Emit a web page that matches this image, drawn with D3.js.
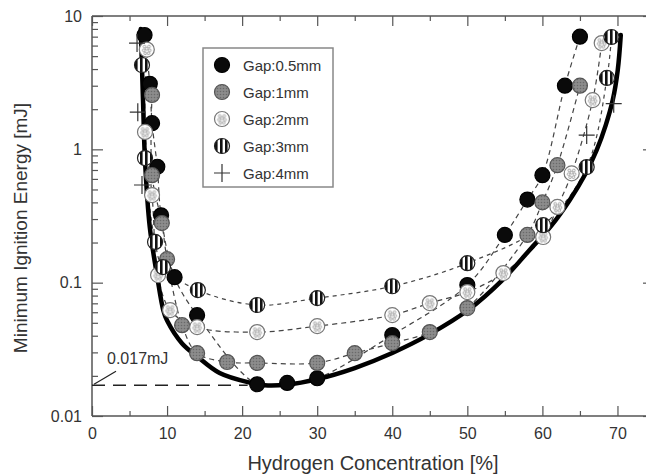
<!DOCTYPE html>
<html>
<head>
<meta charset="utf-8">
<script src="https://cdn.jsdelivr.net/npm/d3@7"></script>
<style>
  html, body { margin: 0; padding: 0; background: #fff; }
  svg { display: block; font-family: "Liberation Sans", Arial, Helvetica, sans-serif; }
</style>
</head>
<body>
<svg id="chart" width="646" height="476"></svg>
<script>
// Hydrogen concentration [%] and minimum ignition energy [mJ] per electrode gap
const gap05Conc = [7.0, 7.7, 8.0, 8.7, 9.2, 11.0, 14.0, 22.0, 26.0, 30.0, 40.0, 50.0, 55.0, 58.0, 60.0, 63.0, 65.0];
const gap05Mie  = [7.2, 3.1, 1.57, 0.74, 0.32, 0.11, 0.057, 0.0173, 0.0177, 0.0192, 0.0405, 0.096, 0.228, 0.42, 0.64, 3.0, 7.0];

const gap1Conc = [8.0, 8.0, 9.3, 10.0, 12.0, 14.0, 18.0, 22.0, 30.0, 35.0, 40.0, 45.0, 50.0, 58.0, 60.0, 62.0, 65.0];
const gap1Mie  = [2.56, 0.64, 0.28, 0.15, 0.048, 0.0296, 0.0254, 0.025, 0.025, 0.0296, 0.0352, 0.0426, 0.0645, 0.228, 0.40, 0.76, 3.0];

const gap2Conc = [7.3, 7.06, 8.0, 8.8, 10.4, 14.0, 22.0, 30.0, 40.0, 45.0, 50.0, 54.8, 60.1, 62.0, 63.9, 66.7, 67.9];
const gap2Mie  = [5.6, 1.35, 0.454, 0.114, 0.0623, 0.0464, 0.0426, 0.0472, 0.0571, 0.0703, 0.085, 0.118, 0.22, 0.37, 0.66, 2.34, 6.27];

const gap3Conc = [6.66, 7.06, 8.4, 9.45, 14.1, 22.0, 30.0, 40.0, 50.0, 60.1, 65.9, 68.6, 69.2];
const gap3Mie  = [4.29, 0.86, 0.202, 0.131, 0.088, 0.068, 0.0766, 0.094, 0.14, 0.27, 0.736, 3.43, 6.96];

const gap4Conc = [6.0, 6.1, 6.66, 65.9, 69.5];
const gap4Mie  = [6.27, 1.9, 0.54, 1.28, 2.2];

// Lower envelope: minimum ignition energy over all gaps
const minConc = [6.5, 6.8, 7.06, 7.7, 8.7, 9.5, 10, 12, 14, 17, 21, 23, 26, 30, 35, 40, 45, 50.1, 54.7, 58.3, 61.25, 63.65, 65.65, 67.24, 68.44, 69.37, 70.04, 70.44];
const minMie  = [8.0, 2.3, 0.83, 0.26, 0.11, 0.062, 0.052, 0.035, 0.028, 0.021, 0.0178, 0.017, 0.0172, 0.0189, 0.0229, 0.0297, 0.0411, 0.0623, 0.105, 0.176, 0.27, 0.417, 0.642, 0.99, 1.52, 2.34, 3.94, 7.2];

const lowestMie = 0.017;

const xTickValues = [0, 10, 20, 30, 40, 50, 60, 70];
const yTickValues = [0.01, 0.1, 1, 10];
const yTickLabels = ["0.01", "0.1", "1", "10"];

const legendLabels = ["Gap:0.5mm", "Gap:1mm", "Gap:2mm", "Gap:3mm", "Gap:4mm"];

const svg = d3.select("#chart");
const pLeft = 92, pRight = 655, pTop = 16, pBottom = 416;

const x = d3.scaleLinear().domain([0, 75]).range([pLeft, pRight]);
const y = d3.scaleLog().domain([0.01, 10]).range([pBottom, pTop]);

// Marker fill patterns
const defs = svg.append("defs");

const pGray = defs.append("pattern").attr("id", "pGray")
  .attr("patternUnits", "userSpaceOnUse").attr("width", 3).attr("height", 3);
pGray.append("rect").attr("width", 3).attr("height", 3).attr("fill", "#8c8c8c");
pGray.append("circle").attr("cx", 1.5).attr("cy", 1.5).attr("r", 0.8).attr("fill", "#6a6a6a");

const pDots = defs.append("pattern").attr("id", "pDots")
  .attr("patternUnits", "objectBoundingBox").attr("patternContentUnits", "objectBoundingBox")
  .attr("width", 1).attr("height", 1);
pDots.append("rect").attr("width", 1).attr("height", 1).attr("fill", "#fff");
[[0.35, 0.3], [0.65, 0.3], [0.3, 0.55], [0.7, 0.55], [0.5, 0.45], [0.4, 0.75], [0.62, 0.75]].forEach(([cx, cy]) => {
  pDots.append("circle").attr("cx", cx).attr("cy", cy).attr("r", 0.09)
    .attr("fill", "none").attr("stroke", "#888").attr("stroke-width", 0.05);
});

const pStripe = defs.append("pattern").attr("id", "pStripe")
  .attr("patternUnits", "userSpaceOnUse").attr("width", 5).attr("height", 5);
pStripe.append("rect").attr("width", 5).attr("height", 5).attr("fill", "#fff");
pStripe.append("rect").attr("width", 2.6).attr("height", 5).attr("fill", "#111");

const series = [
  { conc: gap05Conc, mie: gap05Mie, fill: "#0a0a0a", stroke: "#000", dash: "5,4" },
  { conc: gap1Conc,  mie: gap1Mie,  fill: "url(#pGray)", stroke: "#555", dash: "5,4" },
  { conc: gap2Conc,  mie: gap2Mie,  fill: "url(#pDots)", stroke: "#777", dash: "5,4" },
  { conc: gap3Conc,  mie: gap3Mie,  fill: "url(#pStripe)", stroke: "#222", dash: "4,4" },
  { conc: gap4Conc,  mie: gap4Mie,  cross: true }
];

const R = 7.5;

// Axis frame
const frame = svg.append("g").attr("stroke", "#555").attr("stroke-width", 1.5).attr("fill", "none");
frame.append("line").attr("x1", pLeft).attr("x2", pLeft).attr("y1", pTop).attr("y2", pBottom);
frame.append("line").attr("x1", pRight).attr("x2", pRight).attr("y1", pTop).attr("y2", pBottom);
frame.append("line").attr("x1", pLeft).attr("x2", pRight).attr("y1", pTop).attr("y2", pTop);
frame.append("line").attr("x1", pLeft).attr("x2", pRight).attr("y1", pBottom).attr("y2", pBottom);

function styleTicks(g) {
  g.select(".domain").remove();
  g.selectAll(".tick line").attr("stroke", "#555").attr("stroke-width", 1.2);
}

// Bottom and top axes (ticks pointing inward)
const xMinor = d3.range(5, 75, 10);
const gxb = svg.append("g").attr("transform", `translate(0,${pBottom})`)
  .call(d3.axisBottom(x).tickValues(xTickValues).tickSizeInner(-10).tickSizeOuter(0).tickPadding(12));
styleTicks(gxb);
gxb.selectAll(".tick text").attr("font-size", 16).attr("fill", "#333")
  .attr("font-family", "Liberation Sans, Arial, sans-serif");

styleTicks(svg.append("g").attr("transform", `translate(0,${pBottom})`)
  .call(d3.axisBottom(x).tickValues(xMinor).tickSizeInner(-5).tickSizeOuter(0).tickFormat("")));
styleTicks(svg.append("g").attr("transform", `translate(0,${pTop})`)
  .call(d3.axisTop(x).tickValues(xTickValues).tickSizeInner(-10).tickSizeOuter(0).tickFormat("")));
styleTicks(svg.append("g").attr("transform", `translate(0,${pTop})`)
  .call(d3.axisTop(x).tickValues(xMinor).tickSizeInner(-5).tickSizeOuter(0).tickFormat("")));

// Left and right log axes
const yMinor = [];
[0.01, 0.1, 1].forEach(d => { for (let k = 2; k <= 9; k++) yMinor.push(d * k); });

const gyl = svg.append("g").attr("transform", `translate(${pLeft},0)`)
  .call(d3.axisLeft(y).tickValues(yTickValues).tickSizeInner(-11).tickSizeOuter(0).tickPadding(10)
    .tickFormat((d, i) => yTickLabels[i]));
styleTicks(gyl);
gyl.selectAll(".tick text").attr("font-size", 16).attr("fill", "#333")
  .attr("font-family", "Liberation Sans, Arial, sans-serif");

styleTicks(svg.append("g").attr("transform", `translate(${pLeft},0)`)
  .call(d3.axisLeft(y).tickValues(yMinor).tickSizeInner(-6).tickSizeOuter(0).tickFormat("")));
styleTicks(svg.append("g").attr("transform", `translate(${pRight},0)`)
  .call(d3.axisRight(y).tickValues(yTickValues).tickSizeInner(-12).tickSizeOuter(0).tickFormat("")));
styleTicks(svg.append("g").attr("transform", `translate(${pRight},0)`)
  .call(d3.axisRight(y).tickValues(yMinor).tickSizeInner(-6).tickSizeOuter(0).tickFormat("")));

// Axis titles
svg.append("text").attr("x", 373).attr("y", 470)
  .attr("text-anchor", "middle").attr("font-size", 20).attr("fill", "#333")
  .text("Hydrogen Concentration [%]");
svg.append("text").attr("transform", "translate(27,228) rotate(-90)")
  .attr("text-anchor", "middle").attr("font-size", 19).attr("fill", "#333")
  .text("Minimum Ignition Energy [mJ]");

// Lowest MIE reference line and its label
svg.append("line")
  .attr("x1", x(0)).attr("x2", x(21) - 2)
  .attr("y1", y(lowestMie)).attr("y2", y(lowestMie))
  .attr("stroke", "#222").attr("stroke-width", 1.3).attr("stroke-dasharray", "13,8");
svg.append("line")
  .attr("x1", x(0) + 2).attr("y1", y(lowestMie) - 1)
  .attr("x2", x(0) + 24).attr("y2", y(lowestMie) - 14)
  .attr("stroke", "#222").attr("stroke-width", 1.2);
svg.append("text").attr("x", x(0) + 15).attr("y", y(lowestMie) - 21)
  .attr("font-size", 16).attr("fill", "#333").text(lowestMie + "mJ");

// Dashed connecting lines per gap
const smoothLine = d3.line().curve(d3.curveCatmullRom.alpha(0.5))
  .x(d => x(d[0])).y(d => y(d[1]));

series.forEach(s => {
  if (s.cross) return;
  const pts = s.conc.map((c, i) => [c, s.mie[i]]);
  svg.append("path").attr("d", smoothLine(pts))
    .attr("fill", "none").attr("stroke", "#444").attr("stroke-width", 1.2)
    .attr("stroke-dasharray", s.dash);
});

// Minimum-energy envelope
const envPts = minConc.map((c, i) => [c, minMie[i]]);
svg.append("path").attr("d", smoothLine(envPts))
  .attr("fill", "none").attr("stroke", "#000").attr("stroke-width", 4.5)
  .attr("stroke-linecap", "round");

// Markers
function drawMarker(g, s, cx, cy) {
  if (s.cross) {
    g.append("path").attr("d", `M${cx - 8},${cy}H${cx + 8}M${cx},${cy - 9}V${cy + 9}`)
      .attr("stroke", "#333").attr("stroke-width", 1.2).attr("fill", "none");
  } else {
    g.append("circle").attr("cx", cx).attr("cy", cy).attr("r", R)
      .attr("fill", s.fill).attr("stroke", s.stroke).attr("stroke-width", 1.2);
  }
}

const markers = svg.append("g");
series.forEach(s => {
  s.conc.forEach((c, i) => drawMarker(markers, s, x(c), y(s.mie[i])));
});

// Legend
const lg = svg.append("g");
lg.append("rect").attr("x", 203).attr("y", 48).attr("width", 130).attr("height", 139)
  .attr("fill", "#fff").attr("stroke", "#888").attr("stroke-width", 1.5);
legendLabels.forEach((label, i) => {
  const cy = 65 + i * 27;
  drawMarker(lg, series[i], 222, cy);
  lg.append("text").attr("x", 243).attr("y", cy + 5.5)
    .attr("font-size", 15).attr("fill", "#333").text(label);
});
</script>
</body>
</html>
